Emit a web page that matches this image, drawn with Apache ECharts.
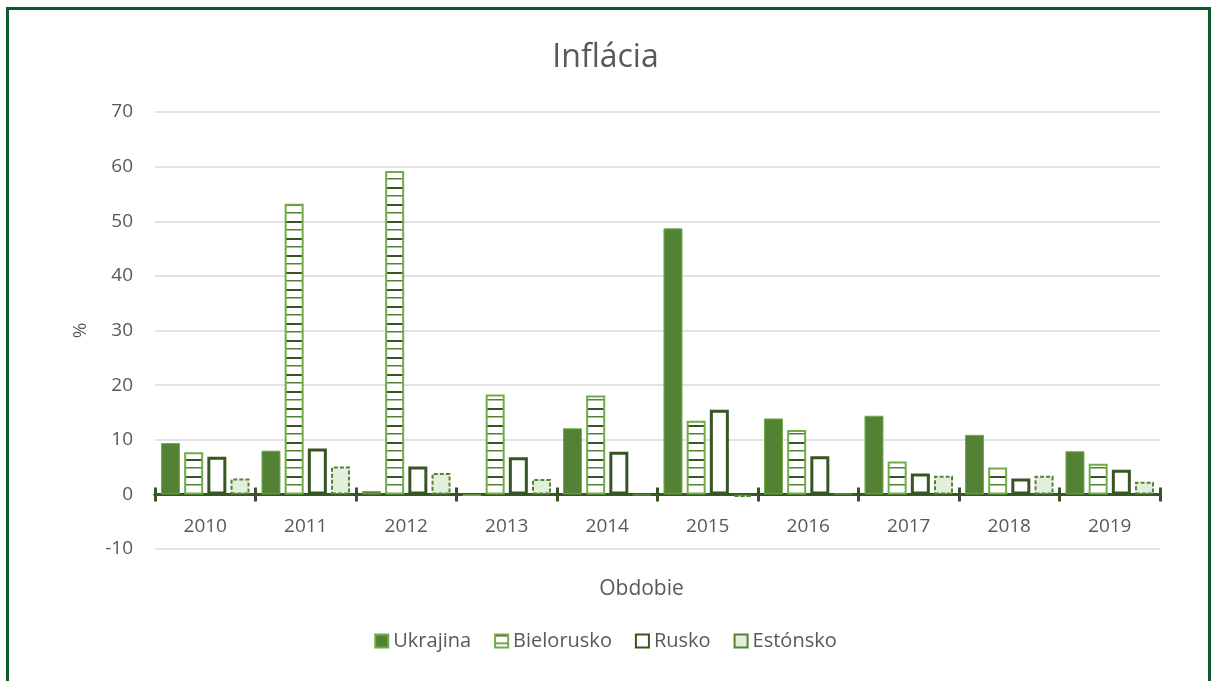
<!DOCTYPE html>
<html>
<head>
<meta charset="utf-8">
<script src="https://cdn.jsdelivr.net/npm/echarts@6/dist/echarts.min.js"></script>
<style>
html,body{margin:0;padding:0;background:#fff;}
#c{width:1211px;height:681px;}
</style>
</head>
<body>
<div id="c"></div>
<script>
const years = ['2010','2011','2012','2013','2014','2015','2016','2017','2018','2019'];
const ukrajina  = [9.4, 8.0, 0.6, -0.3, 12.1, 48.7, 13.9, 14.4, 10.9, 7.9];
const bielorusko = [7.7, 53.2, 59.2, 18.3, 18.1, 13.5, 11.8, 6.0, 4.9, 5.6];
const rusko     = [6.9, 8.4, 5.1, 6.8, 7.8, 15.5, 7.0, 3.8, 2.9, 4.5];
const estonsko  = [2.9, 5.1, 3.9, 2.8, -0.1, -0.5, 0.1, 3.4, 3.4, 2.3];
const yTicks = [-10, 0, 10, 20, 30, 40, 50, 60, 70];

const FONT = 'Open Sans';
const TXT = '#595959';

// horizontal stripe pattern for Bielorusko
const pat = document.createElement('canvas');
pat.width = 8; pat.height = 17;
const pc = pat.getContext('2d');
pc.fillStyle = '#ffffff'; pc.fillRect(0,0,8,17);
pc.fillStyle = '#375623'; pc.fillRect(0,0,8,2);
pc.fillStyle = '#548235'; pc.fillRect(0,8,8,1.5);

const chart = echarts.init(document.getElementById('c'), null, {renderer:'canvas'});
chart.setOption({
  backgroundColor:'#ffffff',
  animation:false,
  title:{
    text:'Inflácia', left:'center', top:37,
    textStyle:{fontFamily:FONT, fontSize:32, fontWeight:'normal', color:TXT}
  },
  legend:{
    top:626, left:'center', icon:'rect', itemWidth:13, itemHeight:13, itemGap:23,
    textStyle:{fontFamily:FONT, fontSize:20, color:TXT},
    data:['Ukrajina','Bielorusko','Rusko','Estónsko']
  },
  grid:{left:155, right:51, top:112, bottom:132, containLabel:false},
  xAxis:[{
    type:'category', data:years, boundaryGap:true, position:'bottom',
    name:'Obdobie', nameLocation:'middle', nameGap:30,
    nameTextStyle:{fontFamily:FONT, fontSize:21, color:TXT, padding:[0,32,0,0]},
    axisLine:{onZero:true, onZeroAxisIndex:0, lineStyle:{color:'#375623', width:3}},
    axisTick:{show:true, length:7, lineStyle:{color:'#375623', width:3}},
    axisLabel:{fontFamily:FONT, fontSize:19, color:TXT, margin:-32},
    splitLine:{show:false}
  },{
    type:'category', data:years, boundaryGap:true, position:'top',
    axisLine:{onZero:true, onZeroAxisIndex:1, lineStyle:{color:'#375623', width:3}},
    axisTick:{show:true, length:7, lineStyle:{color:'#375623', width:3}},
    axisLabel:{show:false},
    splitLine:{show:false}
  }],
  yAxis:[{
    type:'value', min:-10, max:70, interval:10,
    name:'%', nameLocation:'middle', nameGap:65, nameRotate:90,
    nameTextStyle:{fontFamily:FONT, fontSize:19, color:TXT},
    axisLine:{show:false}, axisTick:{show:false},
    axisLabel:{fontFamily:FONT, fontSize:19, color:TXT, margin:22,
      formatter:function(v){ return yTicks.indexOf(v) >= 0 ? String(v) : ''; }},
    splitLine:{lineStyle:{color:'#d9d9d9', width:1.5}}
  },{
    type:'value', min:-10, max:70, interval:10, position:'right',
    axisLine:{show:false}, axisTick:{show:false}, axisLabel:{show:false},
    splitLine:{show:false}
  }],
  series:[
    {name:'Ukrajina', type:'bar', data:ukrajina, barWidth:19, barGap:'22%',
     itemStyle:{color:'#548235', borderColor:'#70ad47', borderWidth:1}},
    {name:'Bielorusko', type:'bar', data:bielorusko, barWidth:19, barGap:'22%',
     itemStyle:{color:{image:pat, repeat:'repeat'}, borderColor:'#70ad47', borderWidth:2}},
    {name:'Rusko', type:'bar', data:rusko, barWidth:19, barGap:'22%',
     itemStyle:{color:'#ffffff', borderColor:'#375623', borderWidth:3}},
    {name:'Estónsko', type:'bar', data:estonsko, barWidth:19, barGap:'22%',
     itemStyle:{color:'#e2efda', borderColor:'#548235', borderWidth:2, borderType:[4,2]}}
  ],
  graphic:[{
    type:'rect', silent:true, z:100,
    shape:{x:7.5, y:8.5, width:1202, height:700},
    style:{fill:null, stroke:'#0a5a2c', lineWidth:3}
  }]
});
</script>
</body>
</html>
